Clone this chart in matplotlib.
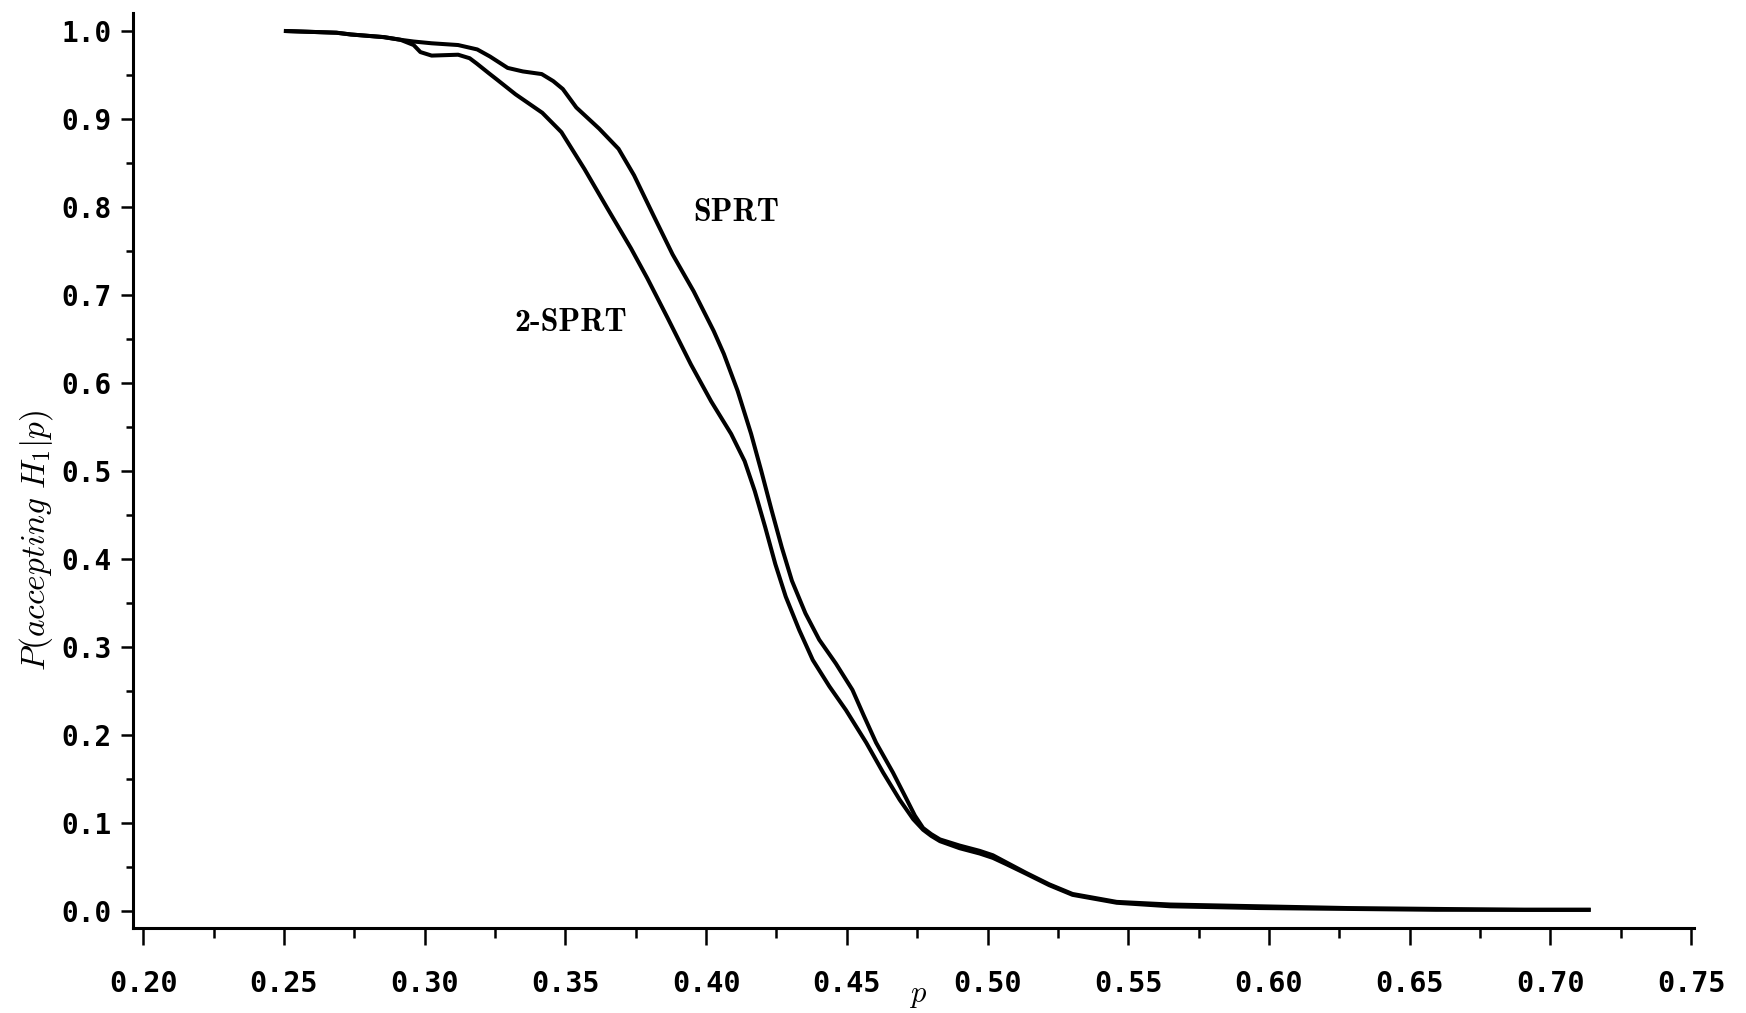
import matplotlib.pyplot as plt
from matplotlib.ticker import MultipleLocator, FormatStrFormatter

# operating characteristic: P(accept H1 | p) for the two tests
p_sprt = [0.250, 0.2687, 0.2738, 0.2855, 0.2914, 0.2961, 0.3025, 0.3119, 0.3187,
          0.3232, 0.3295, 0.3349, 0.3416, 0.3457, 0.3491, 0.3539, 0.3620, 0.3689,
          0.3744, 0.3812, 0.3881, 0.3956, 0.4027, 0.4063, 0.4112, 0.4160, 0.4196,
          0.4233, 0.4269, 0.4305, 0.4353, 0.4402, 0.4461, 0.4520, 0.4560, 0.4604,
          0.4664, 0.4712, 0.4742, 0.4771, 0.4800, 0.4831, 0.4901, 0.4972, 0.5019,
          0.5066, 0.5137, 0.5219, 0.5302, 0.5459, 0.5649, 0.5964, 0.6278, 0.6593,
          0.6907, 0.7143]
acc_sprt = [1.000, 0.998, 0.996, 0.993, 0.990, 0.988, 0.986, 0.984, 0.979,
            0.971, 0.958, 0.954, 0.951, 0.943, 0.934, 0.913, 0.889, 0.866,
            0.836, 0.791, 0.746, 0.704, 0.659, 0.633, 0.591, 0.542, 0.500,
            0.455, 0.413, 0.375, 0.338, 0.308, 0.281, 0.251, 0.222, 0.191,
            0.157, 0.127, 0.108, 0.094, 0.087, 0.081, 0.074, 0.068, 0.063,
            0.055, 0.043, 0.030, 0.019, 0.010, 0.007, 0.005, 0.003, 0.002,
            0.001, 0.001]

p_2sprt = [0.250, 0.2687, 0.2738, 0.2855, 0.2914, 0.2961, 0.2985, 0.3025, 0.3119,
           0.3160, 0.3185, 0.3228, 0.3256, 0.3323, 0.3418, 0.3486, 0.3568, 0.3650,
           0.3733, 0.3791, 0.3863, 0.3946, 0.4018, 0.4089, 0.4137, 0.4173, 0.4210,
           0.4246, 0.4283, 0.4331, 0.4379, 0.4438, 0.4497, 0.4569, 0.4629, 0.4688,
           0.4736, 0.4771, 0.4800, 0.4831, 0.4901, 0.4972, 0.5019, 0.5066, 0.5137,
           0.5219, 0.5302, 0.5459, 0.5649, 0.5964, 0.6278, 0.6593, 0.6907, 0.7143]
acc_2sprt = [1.000, 0.998, 0.996, 0.993, 0.990, 0.984, 0.976, 0.972, 0.973,
             0.969, 0.963, 0.952, 0.945, 0.928, 0.907, 0.885, 0.843, 0.798,
             0.753, 0.719, 0.674, 0.621, 0.579, 0.542, 0.511, 0.477, 0.436,
             0.394, 0.357, 0.319, 0.285, 0.255, 0.228, 0.191, 0.157, 0.126,
             0.104, 0.092, 0.085, 0.079, 0.071, 0.065, 0.060, 0.053, 0.042,
             0.029, 0.018, 0.009, 0.005, 0.003, 0.002, 0.001, 0.001, 0.001]

plt.rcParams['mathtext.fontset'] = 'cm'

fig = plt.figure(figsize=(17.46, 10.13), dpi=100)
ax = fig.add_axes([0.0762, 0.0839, 0.894, 0.9029])

ax.plot(p_sprt, acc_sprt, color='black', lw=2.9, solid_capstyle='butt', solid_joinstyle='round')
ax.plot(p_2sprt, acc_2sprt, color='black', lw=2.9, solid_capstyle='butt', solid_joinstyle='round')

ax.set_xlim(0.1964, 0.751)
ax.set_ylim(-0.0197, 1.020)

ax.spines['top'].set_visible(False)
ax.spines['right'].set_visible(False)
ax.spines['left'].set_linewidth(2.2)
ax.spines['bottom'].set_linewidth(2.2)

ax.xaxis.set_major_locator(MultipleLocator(0.05))
ax.xaxis.set_minor_locator(MultipleLocator(0.025))
ax.yaxis.set_major_locator(MultipleLocator(0.1))
ax.yaxis.set_minor_locator(MultipleLocator(0.05))
ax.xaxis.set_major_formatter(FormatStrFormatter('%.2f'))
ax.yaxis.set_major_formatter(FormatStrFormatter('%.1f'))

ax.tick_params(axis='x', which='major', direction='out', length=12, width=1.8, pad=18)
ax.tick_params(axis='x', which='minor', direction='out', length=7, width=1.8)
ax.tick_params(axis='y', which='major', direction='out', length=8.6, width=1.8, pad=6.5)
ax.tick_params(axis='y', which='minor', direction='out', length=5, width=1.8)

for lbl in ax.get_xticklabels():
    lbl.set_fontfamily('DejaVu Sans Mono')
    lbl.set_fontweight('bold')
    lbl.set_fontsize(20.5)
for lbl in ax.get_yticklabels():
    lbl.set_fontfamily('DejaVu Sans Mono')
    lbl.set_fontweight('bold')
    lbl.set_fontsize(20)

ax.set_ylabel(r'$P(accepting\ H_1|p)$', fontsize=24, va='center')
ax.yaxis.set_label_coords(-0.0624, 0.424)
ax.set_xlabel(r'$p$', fontsize=22)
ax.xaxis.set_label_coords(0.503, -0.058)

ax.text(0.4106, 0.794, 'SPRT', family='cmb10', fontsize=23, ha='center', va='center')
ax.text(0.352, 0.669, '2-SPRT', family='cmb10', fontsize=23, ha='center', va='center')

fig.savefig('out.png', dpi=100)
